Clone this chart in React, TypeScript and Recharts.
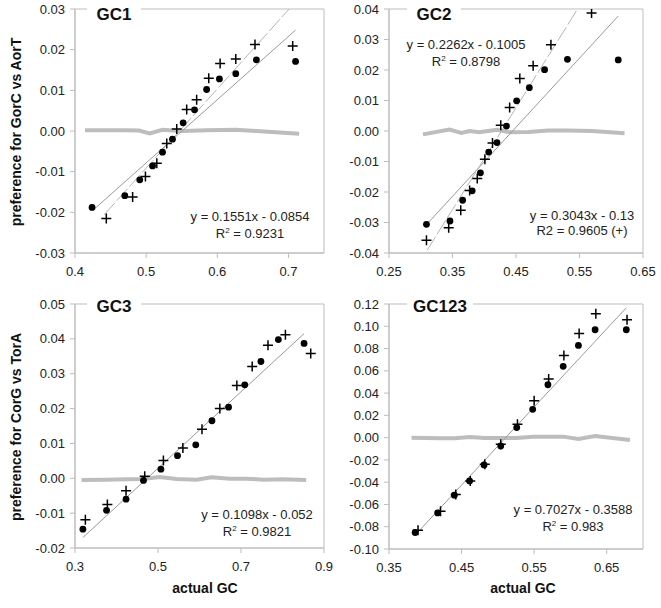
import { ScatterChart, Scatter, XAxis, YAxis, ReferenceArea } from "recharts";

// GC1 panel
const GC1_DOT_X = [0.424, 0.470, 0.491, 0.509, 0.523, 0.537, 0.552, 0.568, 0.585, 0.603, 0.626, 0.655, 0.710];
const GC1_DOT_Y = [-0.0188, -0.0159, -0.0120, -0.0086, -0.0052, -0.0020, 0.0020, 0.0052, 0.0102, 0.0128, 0.0141, 0.0175, 0.0171];
const GC1_CROSS_X = [0.444, 0.481, 0.499, 0.515, 0.529, 0.543, 0.557, 0.571, 0.588, 0.604, 0.626, 0.653, 0.706];
const GC1_CROSS_Y = [-0.0215, -0.0162, -0.0112, -0.0079, -0.0031, 0.0005, 0.0053, 0.0077, 0.0130, 0.0166, 0.0177, 0.0213, 0.0209];
const GC1_BASE_X = [0.414, 0.470, 0.490, 0.505, 0.523, 0.537, 0.552, 0.585, 0.626, 0.655, 0.715];
const GC1_BASE_Y = [0.0002, 0.0002, 0.0001, -0.0006, 0.0003, 0.0001, 0.0, 0.0002, 0.0003, 0.0, -0.0007];
const GC1_FIT_DOT_X = [0.427, 0.710];
const GC1_FIT_DOT_Y = [-0.0192, 0.0248];
const GC1_FIT_CROSS_X = [0.441, 0.701];
const GC1_FIT_CROSS_Y = [-0.0206, 0.03];

// GC2 panel
const GC2_DOT_X = [0.309, 0.346, 0.366, 0.381, 0.394, 0.407, 0.420, 0.435, 0.451, 0.471, 0.495, 0.531, 0.611];
const GC2_DOT_Y = [-0.0306, -0.0295, -0.0227, -0.0196, -0.0137, -0.0069, -0.0038, 0.0016, 0.0099, 0.0142, 0.0201, 0.0235, 0.0233];
const GC2_CROSS_X = [0.309, 0.344, 0.363, 0.377, 0.389, 0.401, 0.413, 0.426, 0.440, 0.456, 0.477, 0.505, 0.569];
const GC2_CROSS_Y = [-0.0358, -0.0317, -0.0260, -0.0195, -0.0156, -0.0093, -0.0039, 0.0019, 0.0077, 0.0172, 0.0214, 0.0283, 0.0387];
const GC2_BASE_X = [0.3035, 0.345, 0.364, 0.377, 0.392, 0.406, 0.420, 0.440, 0.470, 0.500, 0.530, 0.570, 0.621];
const GC2_BASE_Y = [-0.0011, 0.0005, -0.0006, 0.0, -0.0004, 0.0, 0.0004, -0.0004, -0.0003, 0.0002, 0.0002, 0.0, -0.0007];
const GC2_FIT_DOT_X = [0.309, 0.611];
const GC2_FIT_DOT_Y = [-0.0307, 0.0377];
const GC2_FIT_CROSS_X = [0.310, 0.547];
const GC2_FIT_CROSS_Y = [-0.0391, 0.04];

// GC3 panel
const GC3_DOT_X = [0.319, 0.376, 0.423, 0.465, 0.507, 0.547, 0.591, 0.630, 0.670, 0.709, 0.748, 0.790, 0.852];
const GC3_DOT_Y = [-0.0146, -0.0092, -0.0060, -0.0006, 0.0026, 0.0065, 0.0096, 0.0165, 0.0204, 0.0268, 0.0335, 0.0398, 0.0387];
const GC3_CROSS_X = [0.325, 0.378, 0.423, 0.468, 0.513, 0.560, 0.606, 0.649, 0.690, 0.727, 0.765, 0.807, 0.868];
const GC3_CROSS_Y = [-0.0119, -0.0075, -0.0036, 0.0006, 0.0051, 0.0087, 0.0141, 0.0200, 0.0266, 0.0321, 0.0382, 0.0412, 0.0358];
const GC3_BASE_X = [0.316, 0.376, 0.424, 0.464, 0.504, 0.545, 0.593, 0.629, 0.673, 0.713, 0.753, 0.800, 0.857];
const GC3_BASE_Y = [-0.0005, -0.0004, -0.0003, -0.0002, 0.0004, -0.0002, -0.0004, 0.0003, -0.0001, -0.0001, -0.0004, -0.0003, -0.0005];
const GC3_FIT_X = [0.319, 0.852];
const GC3_FIT_Y = [-0.017, 0.0415];

// GC123 panel
const GC4_DOT_X = [0.386, 0.417, 0.440, 0.461, 0.481, 0.504, 0.526, 0.548, 0.569, 0.590, 0.611, 0.634, 0.677];
const GC4_DOT_Y = [-0.0852, -0.0676, -0.0517, -0.0389, -0.0245, -0.0075, 0.0090, 0.0254, 0.0475, 0.0640, 0.0828, 0.0969, 0.0969];
const GC4_CROSS_X = [0.390, 0.421, 0.442, 0.462, 0.482, 0.504, 0.527, 0.550, 0.570, 0.591, 0.612, 0.635, 0.678];
const GC4_CROSS_Y = [-0.0831, -0.0661, -0.0511, -0.0389, -0.0239, -0.0060, 0.0120, 0.0332, 0.0526, 0.0738, 0.0936, 0.1112, 0.1058];
const GC4_BASE_X = [0.381, 0.420, 0.441, 0.461, 0.482, 0.503, 0.526, 0.549, 0.569, 0.590, 0.611, 0.634, 0.682];
const GC4_BASE_Y = [0.0, -0.0006, -0.0006, 0.0006, -0.0003, -0.0003, -0.0003, 0.0009, 0.0009, 0.0009, -0.0012, 0.0015, -0.0021];
const GC4_FIT_X = [0.386, 0.677];
const GC4_FIT_Y = [-0.0875, 0.1166];

const FONT = "'Liberation Sans', Arial, Helvetica, sans-serif";
const AXIS_GRAY = "#bdbdbd";

type Pt = { x: number; y: number };
const zip = (xs: number[], ys: number[]): Pt[] => xs.map((x, i) => ({ x, y: ys[i] }));

const Dot = (p: any) => <circle cx={p.cx} cy={p.cy} r={3.4} fill="#000" />;
const Cross = (p: any) => (
  <path
    d={`M${p.cx - 5},${p.cy}h10M${p.cx},${p.cy - 5}v10`}
    stroke="#000"
    strokeWidth={1.5}
    fill="none"
  />
);
const Nothing = () => <g />;

interface Fit {
  pts: Pt[];
  dashed?: boolean;
}

interface PanelProps {
  left: number;
  top: number;
  width: number;
  height: number;
  margin: { top: number; right: number; bottom: number; left: number };
  yWidth: number;
  xDomain: [number, number];
  xTicks: number[];
  xDigits: number;
  yDomain: [number, number];
  yTicks: number[];
  base: Pt[];
  dots: Pt[];
  crosses: Pt[];
  fits: Fit[];
}

function Panel(props: PanelProps) {
  const tickStyle = { fill: "#222", fontSize: 13, fontFamily: FONT };
  return (
    <div style={{ position: "absolute", left: props.left, top: props.top }}>
      <ScatterChart width={props.width} height={props.height} margin={props.margin}>
        <XAxis
          type="number"
          dataKey="x"
          domain={props.xDomain}
          ticks={props.xTicks}
          interval={0}
          allowDataOverflow
          height={30}
          tickSize={5}
          tickMargin={9}
          tick={tickStyle}
          axisLine={{ stroke: AXIS_GRAY }}
          tickLine={{ stroke: AXIS_GRAY }}
          tickFormatter={(v: number) => v.toFixed(props.xDigits)}
        />
        <YAxis
          type="number"
          dataKey="y"
          domain={props.yDomain}
          ticks={props.yTicks}
          interval={0}
          allowDataOverflow
          width={props.yWidth}
          tickSize={5}
          tickMargin={5}
          tick={tickStyle}
          axisLine={{ stroke: AXIS_GRAY }}
          tickLine={{ stroke: AXIS_GRAY }}
          tickFormatter={(v: number) => v.toFixed(2)}
        />
        <ReferenceArea
          x1={props.xDomain[0]}
          x2={props.xDomain[1]}
          y1={props.yDomain[0]}
          y2={props.yDomain[1]}
          fill="none"
          stroke={AXIS_GRAY}
        />
        <Scatter
          data={props.base}
          shape={Nothing}
          line={{ stroke: "#bdbdbd", strokeWidth: 4 }}
          isAnimationActive={false}
        />
        {props.fits.map((f, i) => (
          <Scatter
            key={i}
            data={f.pts}
            shape={Nothing}
            line={{
              stroke: f.dashed ? "#b5b5b5" : "#9a9a9a",
              strokeWidth: 1,
              strokeDasharray: f.dashed ? "16 3" : undefined,
            }}
            isAnimationActive={false}
          />
        ))}
        <Scatter data={props.dots} shape={Dot} isAnimationActive={false} />
        <Scatter data={props.crosses} shape={Cross} isAnimationActive={false} />
      </ScatterChart>
    </div>
  );
}

function Eq({ x, y, eq, r, sup = true }: { x: number; y: number; eq: string; r: string; sup?: boolean }) {
  return (
    <g fontFamily={FONT} fontSize={13} fill="#222" textAnchor="middle">
      <text x={x} y={y}>{eq}</text>
      {sup ? (
        <text x={x} y={y + 17}>
          R<tspan dy={-5} fontSize={8}>2</tspan>
          <tspan dy={5}>{` = ${r}`}</tspan>
        </text>
      ) : (
        <text x={x} y={y + 15}>{r}</text>
      )}
    </g>
  );
}

function Title({ x, y, w, cy, label }: { x: number; y: number; w: number; cy: number; label: string }) {
  return (
    <g>
      <rect x={x} y={y} width={w} height={18} fill="#fff" />
      <text x={x + w / 2} y={cy} textAnchor="middle" fontFamily={FONT} fontWeight="bold" fontSize={17} fill="#111">
        {label}
      </text>
    </g>
  );
}

export default function App() {
  const yTicks1 = [-0.03, -0.02, -0.01, 0, 0.01, 0.02, 0.03];
  const yTicks2 = [-0.04, -0.03, -0.02, -0.01, 0, 0.01, 0.02, 0.03, 0.04];
  const yTicks3 = [-0.02, -0.01, 0, 0.01, 0.02, 0.03, 0.04, 0.05];
  const yTicks4 = [-0.1, -0.08, -0.06, -0.04, -0.02, 0, 0.02, 0.04, 0.06, 0.08, 0.1, 0.12];
  return (
    <div
      style={{
        position: "absolute",
        left: 0,
        top: 0,
        width: 661,
        height: 608,
        background: "#fff",
        overflow: "hidden",
      }}
    >
      <Panel
        left={0}
        top={0}
        width={330}
        height={300}
        margin={{ top: 9, right: 6, bottom: 17, left: 0 }}
        yWidth={75}
        xDomain={[0.4, 0.75]}
        xTicks={[0.4, 0.5, 0.6, 0.7]}
        xDigits={1}
        yDomain={[-0.03, 0.03]}
        yTicks={yTicks1}
        base={zip(GC1_BASE_X, GC1_BASE_Y)}
        dots={zip(GC1_DOT_X, GC1_DOT_Y)}
        crosses={zip(GC1_CROSS_X, GC1_CROSS_Y)}
        fits={[
          { pts: zip(GC1_FIT_DOT_X, GC1_FIT_DOT_Y) },
          { pts: zip(GC1_FIT_CROSS_X, GC1_FIT_CROSS_Y), dashed: true },
        ]}
      />
      <Panel
        left={330}
        top={0}
        width={331}
        height={300}
        margin={{ top: 9, right: 18, bottom: 17, left: 0 }}
        yWidth={59}
        xDomain={[0.25, 0.65]}
        xTicks={[0.25, 0.35, 0.45, 0.55, 0.65]}
        xDigits={2}
        yDomain={[-0.04, 0.04]}
        yTicks={yTicks2}
        base={zip(GC2_BASE_X, GC2_BASE_Y)}
        dots={zip(GC2_DOT_X, GC2_DOT_Y)}
        crosses={zip(GC2_CROSS_X, GC2_CROSS_Y)}
        fits={[
          { pts: zip(GC2_FIT_DOT_X, GC2_FIT_DOT_Y) },
          { pts: zip(GC2_FIT_CROSS_X, GC2_FIT_CROSS_Y), dashed: true },
        ]}
      />
      <Panel
        left={0}
        top={290}
        width={345}
        height={318}
        margin={{ top: 14, right: 21, bottom: 30, left: 0 }}
        yWidth={75}
        xDomain={[0.3, 0.9]}
        xTicks={[0.3, 0.5, 0.7, 0.9]}
        xDigits={1}
        yDomain={[-0.02, 0.05]}
        yTicks={yTicks3}
        base={zip(GC3_BASE_X, GC3_BASE_Y)}
        dots={zip(GC3_DOT_X, GC3_DOT_Y)}
        crosses={zip(GC3_CROSS_X, GC3_CROSS_Y)}
        fits={[{ pts: zip(GC3_FIT_X, GC3_FIT_Y) }]}
      />
      <Panel
        left={330}
        top={290}
        width={331}
        height={318}
        margin={{ top: 14, right: 18, bottom: 29, left: 0 }}
        yWidth={59}
        xDomain={[0.35, 0.7]}
        xTicks={[0.35, 0.45, 0.55, 0.65]}
        xDigits={2}
        yDomain={[-0.1, 0.12]}
        yTicks={yTicks4}
        base={zip(GC4_BASE_X, GC4_BASE_Y)}
        dots={zip(GC4_DOT_X, GC4_DOT_Y)}
        crosses={zip(GC4_CROSS_X, GC4_CROSS_Y)}
        fits={[{ pts: zip(GC4_FIT_X, GC4_FIT_Y) }]}
      />
      <svg
        width={661}
        height={608}
        style={{ position: "absolute", left: 0, top: 0, pointerEvents: "none" }}
      >
        <Title x={87} y={2} w={54} cy={20} label="GC1" />
        <Title x={407} y={2} w={54} cy={20} label="GC2" />
        <Title x={87} y={296} w={54} cy={312} label="GC3" />
        <Title x={407} y={296} w={66} cy={312} label="GC123" />

        <Eq x={250} y={221} eq="y = 0.1551x - 0.0854" r="0.9231" />
        <Eq x={466} y={49} eq="y = 0.2262x - 0.1005" r="0.8798" />
        <Eq x={582} y={220} eq="y = 0.3043x - 0.13" r="R2 = 0.9605 (+)" sup={false} />
        <Eq x={257} y={519} eq="y = 0.1098x - 0.052" r="0.9821" />
        <Eq x={573} y={514} eq="y = 0.7027x - 0.3588" r="0.983" />

        <g fontFamily={FONT} fontWeight="bold" fontSize={14} fill="#111" textAnchor="middle">
          <text x={205} y={593}>actual GC</text>
          <text x={523} y={593}>actual GC</text>
          <text transform="translate(21,132) rotate(-90)">preference for GorC vs AorT</text>
          <text transform="translate(21,427) rotate(-90)">preference for CorG vs TorA</text>
        </g>
      </svg>
    </div>
  );
}
